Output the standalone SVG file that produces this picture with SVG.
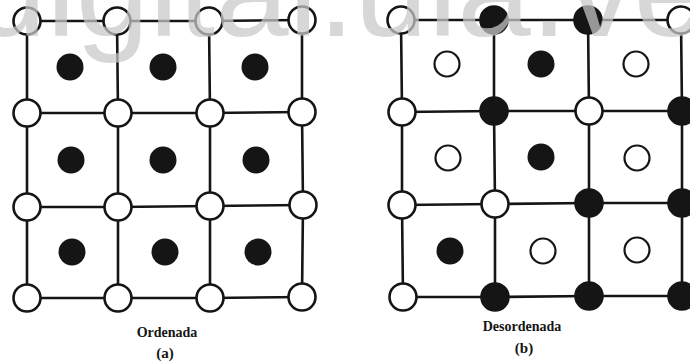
<svg xmlns="http://www.w3.org/2000/svg" width="690" height="364" viewBox="0 0 690 364">
  <style>
    .bg { fill: #ffffff; }
    .bond { stroke: #151515; stroke-width: 2.6; stroke-linecap: round; fill: none; }
    .corner-open { fill: #ffffff; stroke: #151515; stroke-width: 2.6; }
    .corner-solid { fill: #151515; stroke: #151515; stroke-width: 2.6; }
    .center-open { fill: #ffffff; stroke: #151515; stroke-width: 2.2; }
    .center-solid { fill: #151515; }
    .caption { font-family: "Liberation Serif", "DejaVu Serif", serif; font-weight: bold; font-size: 14px; fill: #151515; text-anchor: middle; }
    .label { font-family: "Liberation Serif", "DejaVu Serif", serif; font-weight: bold; font-size: 15px; fill: #151515; text-anchor: middle; }
    .watermark { font-family: "Liberation Sans", Arial, sans-serif; font-size: 132px; fill: #c9c9c9; opacity: 0.72; }
  </style>
  <defs>
    <circle id="corner" r="13.5"/>
  </defs>

  <rect class="bg" x="0" y="0" width="690" height="364"/>

  <!-- lattice bonds -->
  <g id="connectors">
    <!-- ordered lattice: rows -->
    <polyline class="bond" points="27,21 117,21 209,21 302,20"/>
    <polyline class="bond" points="27,113 118,113 210,113 302,112"/>
    <polyline class="bond" points="27,207 118,207 210,206 303,205"/>
    <polyline class="bond" points="27,298 118,298 210,298 302,297"/>
    <!-- ordered lattice: columns -->
    <polyline class="bond" points="27,21 27,113 27,207 27,298"/>
    <polyline class="bond" points="117,21 118,113 118,207 118,298"/>
    <polyline class="bond" points="209,21 210,113 210,206 210,298"/>
    <polyline class="bond" points="302,20 302,112 303,205 302,297"/>
    <!-- disordered lattice: rows -->
    <polyline class="bond" points="401,20 494,20 588,20 681,20"/>
    <polyline class="bond" points="402,112 494,111 589,111 682,111"/>
    <polyline class="bond" points="402,205 495,204 589,203 682,203"/>
    <polyline class="bond" points="403,297 495,297 589,296 682,296"/>
    <!-- disordered lattice: columns -->
    <polyline class="bond" points="401,20 402,112 402,205 403,297"/>
    <polyline class="bond" points="494,20 494,111 495,204 495,297"/>
    <polyline class="bond" points="588,20 589,111 589,203 589,296"/>
    <polyline class="bond" points="681,20 682,111 682,203 682,296"/>
  </g>

  <!-- (a) ordered lattice: open corner sites -->
  <g id="a-c00"><use href="#corner" class="corner-open" x="27" y="21"/></g>
  <g id="a-c01"><use href="#corner" class="corner-open" x="117" y="21"/></g>
  <g id="a-c02"><use href="#corner" class="corner-open" x="209" y="21"/></g>
  <g id="a-c03"><use href="#corner" class="corner-open" x="302" y="20"/></g>
  <g id="a-c10"><use href="#corner" class="corner-open" x="27" y="113"/></g>
  <g id="a-c11"><use href="#corner" class="corner-open" x="118" y="113"/></g>
  <g id="a-c12"><use href="#corner" class="corner-open" x="210" y="113"/></g>
  <g id="a-c13"><use href="#corner" class="corner-open" x="302" y="112"/></g>
  <g id="a-c20"><use href="#corner" class="corner-open" x="27" y="207"/></g>
  <g id="a-c21"><use href="#corner" class="corner-open" x="118" y="207"/></g>
  <g id="a-c22"><use href="#corner" class="corner-open" x="210" y="206"/></g>
  <g id="a-c23"><use href="#corner" class="corner-open" x="303" y="205"/></g>
  <g id="a-c30"><use href="#corner" class="corner-open" x="27" y="298"/></g>
  <g id="a-c31"><use href="#corner" class="corner-open" x="118" y="298"/></g>
  <g id="a-c32"><use href="#corner" class="corner-open" x="210" y="298"/></g>
  <g id="a-c33"><use href="#corner" class="corner-open" x="302" y="297"/></g>

  <!-- (a) ordered lattice: solid body-centre sites -->
  <g id="a-m00"><circle class="center-solid" cx="70" cy="67" r="13.5"/></g>
  <g id="a-m01"><circle class="center-solid" cx="163" cy="67" r="13.5"/></g>
  <g id="a-m02"><circle class="center-solid" cx="255" cy="67" r="13.5"/></g>
  <g id="a-m10"><circle class="center-solid" cx="71" cy="160" r="13.5"/></g>
  <g id="a-m11"><circle class="center-solid" cx="163" cy="160" r="13.5"/></g>
  <g id="a-m12"><circle class="center-solid" cx="256" cy="160" r="13.5"/></g>
  <g id="a-m20"><circle class="center-solid" cx="72" cy="252" r="13.5"/></g>
  <g id="a-m21"><circle class="center-solid" cx="165" cy="252" r="13.5"/></g>
  <g id="a-m22"><circle class="center-solid" cx="258" cy="252" r="13.5"/></g>

  <!-- (b) disordered lattice: corner sites -->
  <g id="b-c00"><use href="#corner" class="corner-open" x="401" y="20"/></g>
  <g id="b-c01"><use href="#corner" class="corner-solid" x="494" y="20"/></g>
  <g id="b-c02"><use href="#corner" class="corner-solid" x="588" y="20"/></g>
  <g id="b-c03"><use href="#corner" class="corner-open" x="681" y="20"/></g>
  <g id="b-c10"><use href="#corner" class="corner-open" x="402" y="112"/></g>
  <g id="b-c11"><use href="#corner" class="corner-solid" x="494" y="111"/></g>
  <g id="b-c12"><use href="#corner" class="corner-open" x="589" y="111"/></g>
  <g id="b-c13"><use href="#corner" class="corner-solid" x="682" y="111"/></g>
  <g id="b-c20"><use href="#corner" class="corner-open" x="402" y="205"/></g>
  <g id="b-c21"><use href="#corner" class="corner-open" x="495" y="204"/></g>
  <g id="b-c22"><use href="#corner" class="corner-solid" x="589" y="203"/></g>
  <g id="b-c23"><use href="#corner" class="corner-solid" x="682" y="203"/></g>
  <g id="b-c30"><use href="#corner" class="corner-open" x="403" y="297"/></g>
  <g id="b-c31"><use href="#corner" class="corner-solid" x="495" y="297"/></g>
  <g id="b-c32"><use href="#corner" class="corner-solid" x="589" y="296"/></g>
  <g id="b-c33"><use href="#corner" class="corner-solid" x="682" y="296"/></g>

  <!-- (b) disordered lattice: body-centre sites -->
  <g id="b-m00"><circle class="center-open" cx="447" cy="64" r="12.5"/></g>
  <g id="b-m01"><circle class="center-solid" cx="541" cy="64" r="13.5"/></g>
  <g id="b-m02"><circle class="center-open" cx="636" cy="64" r="12.5"/></g>
  <g id="b-m10"><circle class="center-open" cx="448" cy="158" r="12.5"/></g>
  <g id="b-m11"><circle class="center-solid" cx="541" cy="157" r="13.5"/></g>
  <g id="b-m12"><circle class="center-open" cx="637" cy="158" r="12.5"/></g>
  <g id="b-m20"><circle class="center-solid" cx="450" cy="251" r="13.5"/></g>
  <g id="b-m21"><circle class="center-open" cx="543" cy="251" r="12.5"/></g>
  <g id="b-m22"><circle class="center-open" cx="637" cy="250" r="12.5"/></g>

  <!-- captions -->
  <g id="caption-a">
    <text class="caption" x="167" y="337">Ordenada</text>
    <text class="label" x="165" y="358">(a)</text>
  </g>
  <g id="caption-b">
    <text class="caption" x="522" y="331">Desordenada</text>
    <text class="label" x="524" y="353">(b)</text>
  </g>

  <!-- translucent site mark across the top edge -->
  <text class="watermark" x="-27" y="36">digital.ula.ve</text>
</svg>
